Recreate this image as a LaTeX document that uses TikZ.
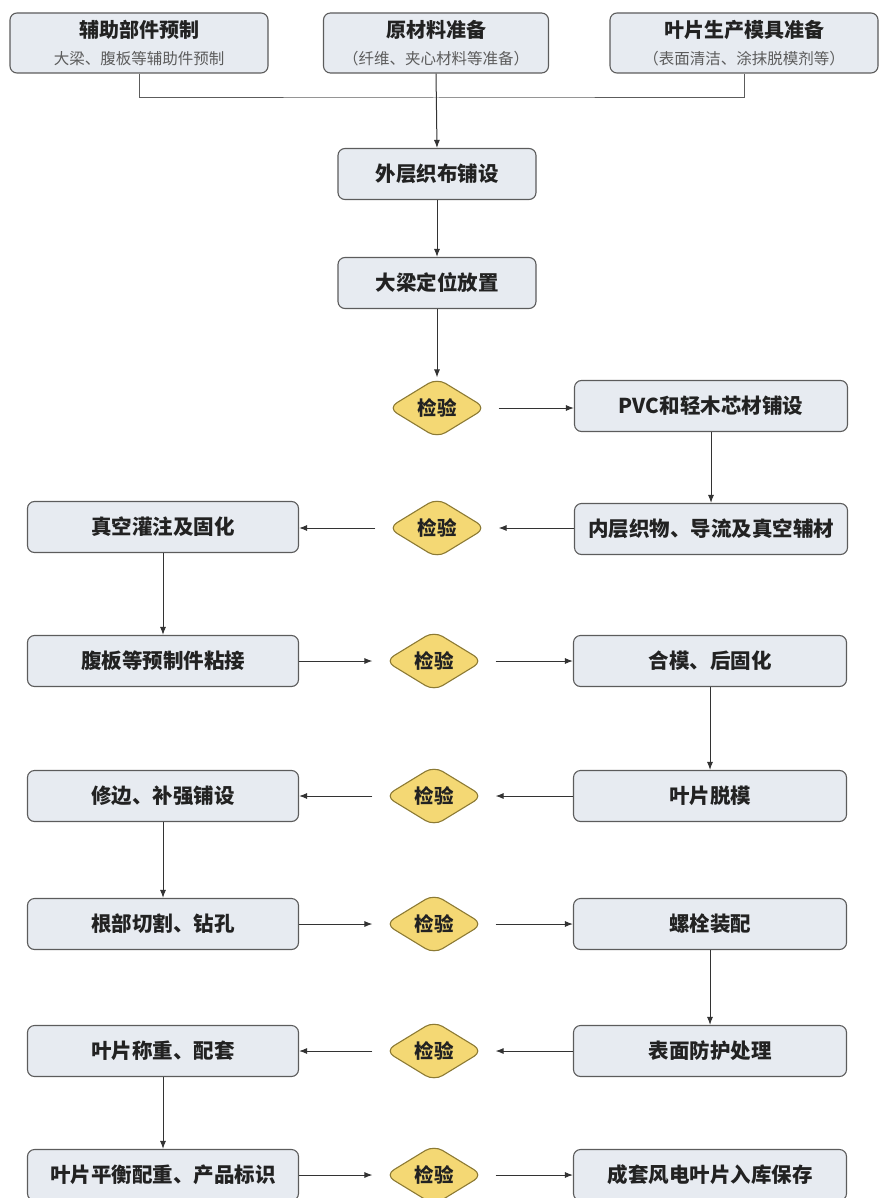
\documentclass[tikz,border=0pt]{standalone}
\usepackage{fontspec}
\setmainfont{Noto Sans CJK SC}
\usepackage{xcolor}
\usetikzlibrary{shapes.geometric,arrows.meta,positioning}
\definecolor{boxfill}{HTML}{E7EBF1}
\definecolor{boxline}{HTML}{5C5C5C}
\definecolor{linecol}{HTML}{333333}
\definecolor{chkfill}{HTML}{F4D874}
\definecolor{chkline}{HTML}{8C7A34}
\definecolor{txt}{HTML}{222222}

\begin{document}
\begin{tikzpicture}[x=1pt, y=-1pt, >={Latex[length=8pt,width=6pt]},
  proc/.style={draw=boxline, fill=boxfill, rounded corners=7pt, line width=1.1pt,
    minimum height=51pt, inner sep=2pt, text=txt, font=\fontsize{20.5}{24}\selectfont\bfseries},
  prep/.style={proc, minimum height=60pt, align=center, font=\fontsize{20}{27}\selectfont},
  check/.style={shape=diamond, draw=chkline, fill=chkfill, line width=1.1pt, aspect=1.6,
    minimum width=98pt, minimum height=60pt, inner sep=0pt, rounded corners=10pt,
    text=txt, font=\fontsize{19.5}{22}\selectfont\bfseries},
  flow/.style={->, line width=1pt, draw=linecol}]
\useasboundingbox (0,0) rectangle (889,1198);

% preparation
\node[prep, minimum width=258pt] (aux) at (139,43) {\textbf{辅助部件预制}\\{\fontsize{15.5}{18}\selectfont\color{boxline}大梁、腹板等辅助件预制}};
\node[prep, minimum width=225pt] (raw) at (436,43) {\textbf{原材料准备}\\{\fontsize{15.5}{18}\selectfont\color{boxline}（纤维、夹心材料等准备）}};
\node[prep, minimum width=268pt] (mold) at (744,43) {\textbf{叶片生产模具准备}\\{\fontsize{15.5}{18}\selectfont\color{boxline}（表面清洁、涂抹脱模剂等）}};
\coordinate (jn) at (436,98);

% main flow
\node[proc, minimum width=198pt] (outer) at (437,174) {外层织布铺设};
\node[proc, minimum width=198pt] (beam) at (437,283) {大梁定位放置};

\node[check] (chk1) at (437,408) {检验};
\node[proc, minimum width=273pt] (pvc) at (711,406) {PVC和轻木芯材铺设};

\node[proc, minimum width=273pt] (inner) at (711,529) {内层织物、导流及真空辅材};
\node[check] (chk2) at (437,528) {检验};
\node[proc, minimum width=271pt] (vac) at (163,527) {真空灌注及固化};

\node[proc, minimum width=271pt] (web) at (163,661) {腹板等预制件粘接};
\node[check] (chk3) at (434,661) {检验};
\node[proc, minimum width=273pt] (close) at (710,661) {合模、后固化};

\node[proc, minimum width=273pt] (demold) at (710,796) {叶片脱模};
\node[check] (chk4) at (434,796) {检验};
\node[proc, minimum width=271pt] (trim) at (163,796) {修边、补强铺设};

\node[proc, minimum width=271pt] (root) at (163,924) {根部切割、钻孔};
\node[check] (chk5) at (434,924) {检验};
\node[proc, minimum width=273pt] (bolt) at (710,924) {螺栓装配};

\node[proc, minimum width=273pt] (surf) at (710,1051) {表面防护处理};
\node[check] (chk6) at (434,1051) {检验};
\node[proc, minimum width=271pt] (weigh) at (163,1051) {叶片称重、配套};

\node[proc, minimum width=271pt] (bal) at (163,1175) {叶片平衡配重、产品标识};
\node[check] (chk7) at (434,1175) {检验};
\node[proc, minimum width=273pt] (store) at (710,1175) {成套风电叶片入库保存};

% connectors
\draw[line width=1pt, draw=boxline] (aux.south) |- (jn) -| (mold.south);
\draw[flow] (raw.south) -- (outer.north);
\draw[flow] (outer) -- (beam);
\draw[flow] (beam.south) -- (chk1.north);
\draw[flow, shorten <=12pt] (chk1.east) -- (chk1.east -| pvc.west);
\draw[flow] (pvc) -- (inner);
\draw[flow, shorten >=12pt] (chk2.east -| inner.west) -- (chk2.east);
\draw[flow, shorten <=12pt] (chk2.west) -- (chk2.west -| vac.east);
\draw[flow] (vac) -- (web);
\draw[flow, shorten >=12pt] (web.east) -- (chk3.west);
\draw[flow, shorten <=12pt] (chk3.east) -- (close.west);
\draw[flow] (close) -- (demold);
\draw[flow, shorten >=12pt] (demold.west) -- (chk4.east);
\draw[flow, shorten <=12pt] (chk4.west) -- (trim.east);
\draw[flow] (trim) -- (root);
\draw[flow, shorten >=12pt] (root.east) -- (chk5.west);
\draw[flow, shorten <=12pt] (chk5.east) -- (bolt.west);
\draw[flow] (bolt) -- (surf);
\draw[flow, shorten >=12pt] (surf.west) -- (chk6.east);
\draw[flow, shorten <=12pt] (chk6.west) -- (weigh.east);
\draw[flow] (weigh) -- (bal);
\draw[flow, shorten >=12pt] (bal.east) -- (chk7.west);
\draw[flow, shorten <=12pt] (chk7.east) -- (store.west);
\end{tikzpicture}
\end{document}
